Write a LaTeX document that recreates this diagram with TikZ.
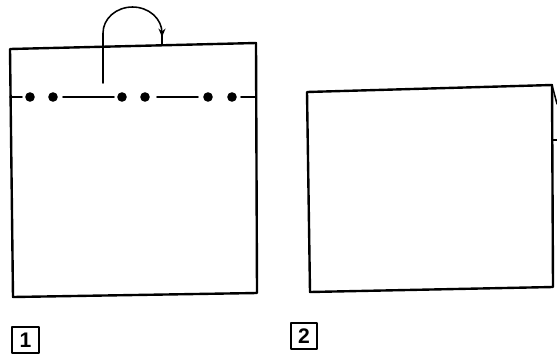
\documentclass[tikz,border=0pt]{standalone}
\usepackage{fontspec}
\setsansfont{Liberation Sans}
\usetikzlibrary{calc, positioning}
\usetikzlibrary{arrows.meta}

\begin{document}
\begin{tikzpicture}[x=0.025cm,y=-0.025cm,line join=round,line cap=round]
\def\lw{1.7pt}
\def\dotr{4.8}
\tikzset{
  sheet/.style={line width=\lw,black},
  seam/.style={line width=1.1pt,black},
  stitch/.style={fill=black},
  numbox/.style={draw,line width=1.2pt,minimum size=0.66cm,inner sep=0pt,
    font=\sffamily\bfseries\fontsize{15}{15}\selectfont}
}
\useasboundingbox (0,0) rectangle (557,355);
% panel 1
\coordinate (ATL) at (10,49);
\coordinate (ATR) at (256,43);
\coordinate (ABR) at (257,293);
\coordinate (ABL) at (13,297);
\draw[sheet] (ATL) -- (ATR) -- (ABR) -- (ABL) -- cycle;
% row of stitches
\coordinate (SL) at (10,97);
\coordinate (SR) at (256,97);
\foreach \px [count=\i] in {30,53,122,145,208,232}
  \fill[stitch] (\px,97) circle (\dotr) coordinate (D\i);
\draw[seam] (SL) -- (22,97);
\draw[seam] (63,97) -- (114,97);
\draw[seam] (157,97) -- (198,97);
\draw[seam] (241,97) -- (SR);
% fold over
\coordinate (FA) at (103,83);
\coordinate (FB) at (162,44);
\draw[seam,-{Stealth[length=6pt,width=5pt]}] (FA) -- (103,33)
  arc[start angle=180,end angle=360,x radius=29.5,y radius=26] -- (162,37);
\draw[seam] (162,35) -- (FB);
% panel 2
\coordinate (BTL) at (307,92);
\coordinate (BTR) at (552,85);
\coordinate (BBR) at (553,287);
\coordinate (BBL) at (310,292);
\draw[sheet] (BTL) -- (BTR) -- (BBR) -- (BBL) -- cycle;
\draw[seam] (BTR) -- (557,104);
\draw[seam] (553,140) -- (557,140);
% numbers
\node[numbox] (one) at (25.5,340) {1};
\node[numbox] (two) at (304,336) {2};
\end{tikzpicture}
\end{document}
